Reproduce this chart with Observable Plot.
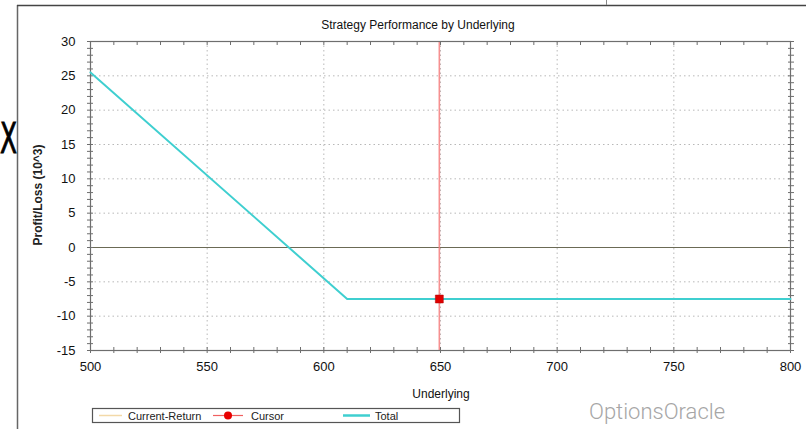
<!DOCTYPE html>
<html>
<head>
<meta charset="utf-8">
<script src="https://cdn.jsdelivr.net/npm/d3@7"></script>
<script src="https://cdn.jsdelivr.net/npm/@observablehq/plot@0.6"></script>
<style>
  html, body { margin: 0; padding: 0; background: #fff; }
  #chart { position: relative; width: 806px; height: 429px; overflow: hidden; }
  svg { font-family: "Liberation Sans", Arial, sans-serif; }
</style>
</head>
<body>
<div id="chart"></div>
<script>
// Data
const underlying = [500, 610, 800];
const totalPL = [25.5, -7.5, -7.5];
const cursorX = [649.5];
const cursorY = [-7.5];
const xTicks = [500, 550, 600, 650, 700, 750, 800];
const yTicks = [-15, -10, -5, 0, 5, 10, 15, 20, 25, 30];
const xMinor = d3.range(500, 801, 10);
const yMinor = d3.range(-15, 31, 1);
const xGrid = [550, 600, 650, 700, 750];
const yGrid = [-10, -5, 5, 10, 15, 20, 25];
const legendItems = ["Current-Return", "Cursor", "Total"];

const totalData = underlying.map((u, i) => ({u, v: totalPL[i]}));
const cursorData = cursorX.map((u, i) => ({u, v: cursorY[i]}));

const axisColor = "#6e6e6e";
const font = "Liberation Sans, Arial, sans-serif";
const fmt = d => String(d);

const plot = Plot.plot({
  width: 806,
  height: 429,
  marginLeft: 90,
  marginRight: 16,
  marginTop: 41,
  marginBottom: 79,
  style: {fontFamily: font, fontSize: "13px", background: "#fff", overflow: "visible"},
  x: {domain: [500, 800]},
  y: {domain: [-15, 30]},
  marks: [
    // grid
    Plot.ruleX(xGrid, {stroke: "#b8b8b8", strokeDasharray: "1.5,3", strokeWidth: 1}),
    Plot.ruleY(yGrid, {stroke: "#b8b8b8", strokeDasharray: "1.5,3", strokeWidth: 1}),
    // zero line
    Plot.ruleY([0], {stroke: "#6b6a55", strokeWidth: 1.2}),
    // cursor vertical line
    Plot.ruleX(cursorX, {stroke: "#f47c7c", strokeWidth: 1.6, strokeOpacity: 0.85}),
    // minor ticks (crossing)
    Plot.axisX({anchor: "bottom", ticks: xMinor, tickSize: 3, label: null, tickFormat: () => "", stroke: axisColor}),
    Plot.axisX({anchor: "bottom", ticks: xMinor, tickSize: -3, label: null, tickFormat: () => "", stroke: axisColor}),
    Plot.axisX({anchor: "top", ticks: xMinor, tickSize: -3, label: null, tickFormat: () => "", stroke: axisColor}),
    Plot.axisY({anchor: "left", ticks: yMinor, tickSize: 3, label: null, tickFormat: () => "", stroke: axisColor}),
    Plot.axisY({anchor: "left", ticks: yMinor, tickSize: -3, label: null, tickFormat: () => "", stroke: axisColor}),
    Plot.axisY({anchor: "right", ticks: yMinor, tickSize: 3, label: null, tickFormat: () => "", stroke: axisColor}),
    Plot.axisY({anchor: "right", ticks: yMinor, tickSize: -3, label: null, tickFormat: () => "", stroke: axisColor}),
    // major labels
    Plot.axisX({anchor: "bottom", ticks: xTicks, tickSize: 0, tickPadding: 11, label: null, fontSize: 13, fill: "#111", tickFormat: fmt}),
    Plot.axisY({anchor: "left", ticks: yTicks, tickSize: 0, tickPadding: 15, label: null, fontSize: 13, fill: "#111", tickFormat: fmt}),
    // frame
    Plot.frame({stroke: axisColor, strokeWidth: 1.2}),
    // total line
    Plot.line(totalData, {x: "u", y: "v", stroke: "#3fcfd0", strokeWidth: 2}),
    // cursor point
    Plot.dot(cursorData, {x: "u", y: "v", symbol: "square", r: 4.5, fill: "#e00000", stroke: "#b00000", strokeWidth: 0.5})
  ]
});

document.getElementById("chart").appendChild(plot);

const svg = d3.select(plot);
// Outer frame lines (screenshot window)
svg.append("line").attr("x1", 17.5).attr("x2", 17.5).attr("y1", 5).attr("y2", 429).attr("stroke", "#666").attr("stroke-width", 1.5);
svg.append("line").attr("x1", 17).attr("x2", 806).attr("y1", 5.5).attr("y2", 5.5).attr("stroke", "#444").attr("stroke-width", 1.5);
svg.append("line").attr("x1", 606.5).attr("x2", 606.5).attr("y1", 0).attr("y2", 5).attr("stroke", "#888").attr("stroke-width", 1);
svg.append("text").attr("x", 0).attr("y", 153).attr("font-size", 42).attr("text-anchor", "start")
  .attr("textLength", 17).attr("lengthAdjust", "spacingAndGlyphs")
  .attr("stroke", "#000").attr("stroke-width", 1)
  .attr("font-family", "DejaVu Sans, sans-serif").attr("fill", "#000").text("X");

// Title
svg.append("text").attr("x", 418).attr("y", 29).attr("text-anchor", "middle").attr("font-size", 12).attr("fill", "#111").text("Strategy Performance by Underlying");
// Axis labels
svg.append("text").attr("x", 441).attr("y", 398).attr("text-anchor", "middle").attr("font-size", 12).attr("fill", "#111").text("Underlying");
svg.append("text").attr("transform", "translate(42,195) rotate(-90)").attr("text-anchor", "middle").attr("font-size", 12).attr("font-weight", "bold").attr("fill", "#222").text("Profit/Loss (10^3)");

// Legend
const lg = svg.append("g").attr("text-anchor", "start");
lg.append("rect").attr("x", 92.5).attr("y", 408.5).attr("width", 367).attr("height", 14).attr("fill", "#fff").attr("stroke", "#555").attr("stroke-width", 1.2);
lg.append("line").attr("x1", 99).attr("x2", 122).attr("y1", 415.5).attr("y2", 415.5).attr("stroke", "#f3d9a8").attr("stroke-width", 1.5);
lg.append("text").attr("x", 128).attr("y", 419.5).attr("font-size", 11).attr("fill", "#222").text(legendItems[0]);
lg.append("line").attr("x1", 213).attr("x2", 243).attr("y1", 415.5).attr("y2", 415.5).attr("stroke", "#f06060").attr("stroke-width", 1.2);
lg.append("circle").attr("cx", 228).attr("cy", 415.5).attr("r", 4).attr("fill", "#e80000");
lg.append("text").attr("x", 251).attr("y", 419.5).attr("font-size", 11).attr("fill", "#222").text(legendItems[1]);
lg.append("line").attr("x1", 343).attr("x2", 370).attr("y1", 415.5).attr("y2", 415.5).attr("stroke", "#3fcfd0").attr("stroke-width", 2.5);
lg.append("text").attr("x", 375).attr("y", 419.5).attr("font-size", 11).attr("fill", "#222").text(legendItems[2]);

// Watermark
svg.append("text").attr("x", 589).attr("y", 419).attr("text-anchor", "start").attr("font-size", 22).attr("fill", "#a6a6a6").attr("font-family", "Roboto, Liberation Sans, sans-serif").attr("font-weight", 300).text("OptionsOracle");
</script>
</body>
</html>
